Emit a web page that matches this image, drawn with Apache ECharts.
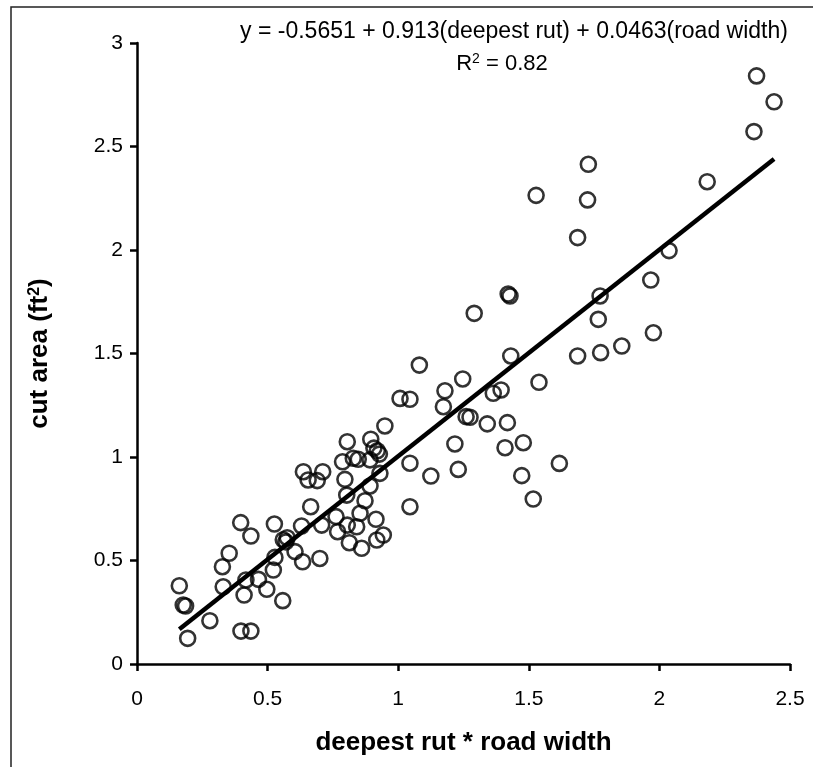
<!DOCTYPE html>
<html>
<head>
<meta charset="utf-8">
<script src="https://cdn.jsdelivr.net/npm/echarts@6/dist/echarts.min.js"></script>
<style>
  html, body { margin: 0; padding: 0; background: #fff; }
  #chart { width: 813px; height: 767px; }
</style>
</head>
<body>
<div id="chart"></div>
<script>
// Observed plots: deepest rut * road width vs. cut area (ft^2)
const rutTimesWidth = [
  0.162, 0.177, 0.186, 0.194, 0.279, 0.330, 0.327, 0.353, 0.397, 0.436,
  0.398, 0.436, 0.417, 0.410, 0.465, 0.497, 0.522, 0.528, 0.526, 0.558,
  0.560, 0.570, 0.575, 0.605, 0.634, 0.630, 0.665, 0.707, 0.700, 0.768,
  0.762, 0.805, 0.841, 0.813, 0.860, 0.918, 0.943, 0.915, 0.854, 0.873,
  0.803, 0.892, 0.796, 0.930, 0.787, 0.828, 0.847, 0.892, 0.907, 0.920,
  0.928, 0.805, 0.895, 0.949, 1.007, 1.045, 1.081, 1.045, 1.045, 1.125,
  0.637, 0.655, 0.690, 0.711, 1.179, 1.247, 1.173, 1.260, 1.275, 1.341,
  1.364, 1.394, 1.418, 1.217, 1.409, 1.479, 1.230, 1.617, 1.473, 1.517,
  1.539, 1.431, 1.291, 1.421, 1.428, 1.687, 1.775, 1.766, 1.773, 1.856,
  1.977, 1.967, 2.037, 2.183, 2.362, 2.372, 2.439, 1.528, 1.728, 1.725,
  1.687
];
const cutArea = [
  0.378, 0.285, 0.280, 0.124, 0.209, 0.373, 0.470, 0.535, 0.683, 0.618,
  0.159, 0.159, 0.406, 0.333, 0.409, 0.361, 0.454, 0.515, 0.676, 0.306,
  0.600, 0.590, 0.610, 0.543, 0.494, 0.667, 0.760, 0.671, 0.510, 0.639,
  0.712, 0.671, 0.663, 0.586, 0.559, 0.599, 0.623, 0.699, 0.728, 0.789,
  0.816, 0.860, 0.892, 0.921, 0.977, 0.994, 0.989, 0.986, 1.043, 1.030,
  1.014, 1.074, 1.086, 1.150, 1.283, 1.279, 1.444, 0.970, 0.760, 0.908,
  0.929, 0.889, 0.886, 0.929, 1.320, 1.377, 1.243, 1.195, 1.192, 1.160,
  1.308, 1.324, 1.166, 1.063, 1.045, 1.069, 0.940, 0.969, 0.910, 0.797,
  1.361, 1.488, 1.694, 1.787, 1.778, 1.488, 1.504, 1.665, 1.778, 1.536,
  1.600, 1.855, 1.997, 2.330, 2.572, 2.841, 2.716, 2.264, 2.414, 2.242,
  2.060
];

// Fitted line end points
const fitX = [0.162, 2.439];
const fitY = [0.168, 2.440];

const xTicks = [0, 0.5, 1, 1.5, 2, 2.5];
const yTicks = [0, 0.5, 1, 1.5, 2, 2.5, 3];

const equationText = 'y = -0.5651 + 0.913(deepest rut) + 0.0463(road width)';
const rSquaredText = '{n|R}{s|2}{n| = 0.82}';

const FONT = '"Liberation Sans", Arial, sans-serif';

const points = rutTimesWidth.map((x, i) => [x, cutArea[i]]);
const fitLine = fitX.map((x, i) => [x, fitY[i]]);

const chart = echarts.init(document.getElementById('chart'), null, { renderer: 'canvas' });

const axisCommon = {
  axisLine: { show: true, onZero: false, lineStyle: { color: '#000', width: 2.5 } },
  axisTick: { show: true, inside: false, length: 7, lineStyle: { color: '#000', width: 2.5 } },
  splitLine: { show: false },
  axisLabel: { color: '#000', fontFamily: FONT, fontSize: 21 }
};

chart.setOption({
  animation: false,
  backgroundColor: '#fff',
  grid: { left: 137, top: 43, width: 653, height: 621, containLabel: false },
  xAxis: Object.assign({}, axisCommon, {
    type: 'value',
    min: xTicks[0],
    max: xTicks[xTicks.length - 1],
    interval: 0.5,
    name: 'deepest rut * road width',
    nameLocation: 'middle',
    nameGap: 66,
    nameTextStyle: { color: '#000', fontFamily: FONT, fontSize: 26, fontWeight: 'bold' },
    axisLabel: Object.assign({}, axisCommon.axisLabel, { margin: 25 })
  }),
  yAxis: Object.assign({}, axisCommon, {
    type: 'value',
    min: yTicks[0],
    max: yTicks[yTicks.length - 1],
    interval: 0.5,
    name: '{b|cut area (ft}{bs|2}{b|)}',
    nameLocation: 'middle',
    nameGap: 84,
    nameTextStyle: {
      color: '#000', fontFamily: FONT, fontSize: 26, fontWeight: 'bold',
      rich: {
        b: { fontFamily: FONT, fontSize: 26, fontWeight: 'bold', color: '#000' },
        bs: { fontFamily: FONT, fontSize: 16, fontWeight: 'bold', color: '#000', verticalAlign: 'top', padding: [0, 0, 9, 0] }
      }
    },
    axisLabel: Object.assign({}, axisCommon.axisLabel, { margin: 14 })
  }),
  series: [
    {
      type: 'scatter',
      data: points,
      symbol: 'circle',
      symbolSize: 15,
      itemStyle: { color: 'rgba(255,255,255,0)', borderColor: '#000', borderWidth: 2.6 },
      z: 3
    },
    {
      type: 'line',
      data: fitLine,
      symbol: 'none',
      lineStyle: { color: '#000', width: 4.5 },
      z: 4
    }
  ],
  graphic: [
    {
      type: 'rect',
      shape: { x: 11, y: 7, width: 820, height: 780 },
      style: { fill: null, stroke: '#222', lineWidth: 1.5 },
      silent: true
    },
    {
      type: 'text',
      x: 514, y: 32,
      style: {
        text: equationText, fill: '#000', font: '23px ' + FONT,
        align: 'center', verticalAlign: 'middle'
      }
    },
    {
      type: 'text',
      x: 502, y: 64,
      style: {
        text: rSquaredText, align: 'center', verticalAlign: 'middle',
        rich: {
          n: { fontFamily: FONT, fontSize: 22, fill: '#000' },
          s: { fontFamily: FONT, fontSize: 14, fill: '#000', verticalAlign: 'top', padding: [0, 0, 9, 0] }
        }
      }
    }
  ]
});
</script>
</body>
</html>
